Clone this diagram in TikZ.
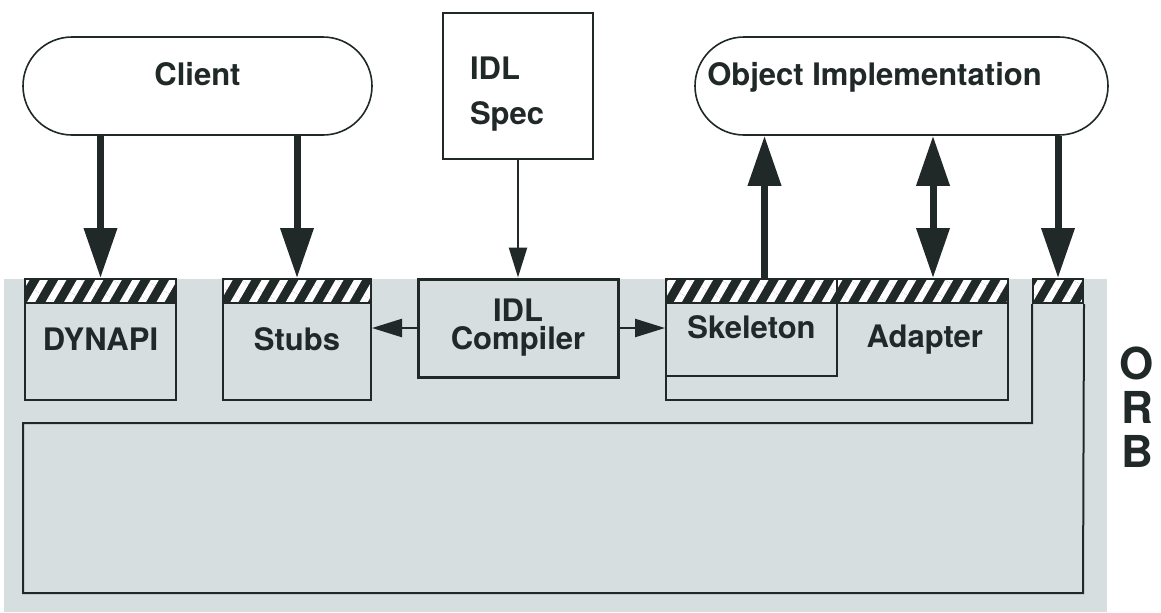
\documentclass[tikz,border=0pt]{standalone}
\usepackage{fontspec}
\setmainfont{TeX Gyre Heros}
\usepackage{tikz}
\usetikzlibrary{arrows.meta, patterns.meta}
\definecolor{ink}{RGB}{32,40,40}
\definecolor{orbgray}{RGB}{214,222,223}
\tikzstyle{oval} = [rectangle, rounded corners=24.5pt, minimum height=49pt, text height=11pt, text depth=11.5pt, draw=ink, line width=0.8pt, fill=white]
\tikzstyle{box} = [rectangle, align=center, draw=ink, line width=1pt, fill=orbgray]
\tikzstyle{hatched} = [path picture={
  \fill[ink] (path picture bounding box.north west) rectangle ([yshift=-12pt]path picture bounding box.north east);
  \fill[pattern={Lines[angle=60,distance=8pt,line width=3.5pt]}, pattern color=white] (path picture bounding box.north west) rectangle ([yshift=-12pt]path picture bounding box.north east);
  \draw[ink, line width=1.2pt] ([yshift=-12pt]path picture bounding box.north west) -- ([yshift=-12pt]path picture bounding box.north east);
}]
\tikzstyle{arrow} = [draw=ink, line width=1.2pt, -{Triangle[length=15pt,width=9pt]}]
\tikzstyle{bigarrow} = [draw=ink, line width=3.5pt, -{Triangle[length=25pt,width=16pt]}]

\begin{document}
\begin{tikzpicture}[x=0.5pt, y=-0.5pt, font=\fontsize{15.5}{14}\selectfont\bfseries, text=ink]
\useasboundingbox (0,0) rectangle (1161,612);
\fill[orbgray] (4,279) rectangle (1107,612);
\node (client) [oval, minimum width=174.5pt] at (197.5,86) {Client};
\node (impl) [oval, minimum width=206.5pt] at (901.5,86) {Object Implementation\hspace*{27pt}};
\node (spec) [box, fill=white, line width=1.2pt, minimum width=75pt, minimum height=73pt, text width=48pt, inner xsep=13.5pt, align=left] at (518,86) {\rule{0pt}{19.5pt}IDL\\[8.5pt]Spec};
\node (compiler) [box, line width=1.5pt, minimum width=100pt, minimum height=49pt] at (518,328) {IDL\\Compiler};
\node (dynapi) [box, hatched, minimum width=75.5pt, minimum height=60.5pt] at (100.5,339.5) {DYNAPI};
\node (stubs) [box, hatched, minimum width=74pt, minimum height=60.5pt] at (297,339.5) {Stubs};
\node (adapter) [box, hatched, minimum height=60.5pt, text width=146pt, inner xsep=12.5pt, align=right] at (837,339.5) {Adapter};
\node (skeleton) [box, hatched, minimum width=85.5pt, minimum height=48.5pt] at (751.5,327.5) {Skeleton};
\node (orbport) [box, hatched, minimum width=25pt, minimum height=12pt] at (1058,291) {};
\node (orb) [font=\fontsize{22}{22}\selectfont\bfseries, align=center] at (1137,407) {O\\R\\B};
\draw [ink, line width=1pt] (orbport.south west) |- (23,423) |- (1083,593) -- (orbport.south east);
\draw [bigarrow] (client.south -| dynapi.north) -- (dynapi.north);
\draw [bigarrow] (client.south -| stubs.north) -- (stubs.north);
\draw [arrow] (spec) -- (compiler);
\draw [arrow] (compiler.west) -- (compiler.west -| stubs.east);
\draw [arrow] (compiler.east) -- (compiler.east -| skeleton.west);
\draw [bigarrow] ([xshift=6.5pt]skeleton.north) -- ([xshift=6.5pt]skeleton.north |- impl.south);
\draw [bigarrow, {Triangle[length=25pt,width=16pt]}-{Triangle[length=25pt,width=16pt]}] ([xshift=48pt]adapter.north |- impl.south) -- ([xshift=48pt]adapter.north);
\draw [bigarrow] (impl.south -| orbport.north) -- (orbport.north);
\end{tikzpicture}
\end{document}
